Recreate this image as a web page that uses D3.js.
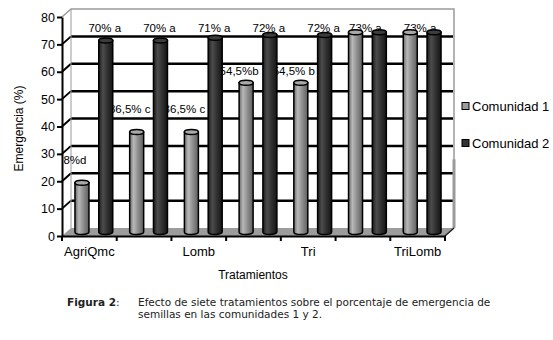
<!DOCTYPE html>
<html>
<head>
<meta charset="utf-8">
<script src="https://cdn.jsdelivr.net/npm/d3@7"></script>
<style>
  body { margin: 0; background: #fff; }
  svg { display: block; }
  text { font-family: "Liberation Sans", Arial, sans-serif; fill: #000; }
  .caption text { font-family: "DejaVu Sans", Verdana, sans-serif; fill: #222; }
</style>
</head>
<body>
<div id="chart"></div>
<script>
// data
const categories = ["AgriQmc", "T2", "Lomb", "T4", "Tri", "T6", "TriLomb"];
const tickLabels = ["AgriQmc", "", "Lomb", "", "Tri", "", "TriLomb"];
const series = ["Comunidad 1", "Comunidad 2"];
const comunidad1 = [18, 36.5, 36.5, 54.5, 54.5, 73, 73];
const comunidad2 = [70, 70, 71, 72, 72, 73, 73];
const labels1 = ["8%d", "36,5% c", "36,5% c", "54,5%b", "54,5% b", "", ""];
const labels2 = ["70% a", "70% a", "71% a", "72% a", "72% a", "73% a", "73% a"];
const yTicks = [0, 10, 20, 30, 40, 50, 60, 70, 80];

var w = 553, h = 340;
var depth = { dx: 9, dy: -8 };   // 3d offset of the back wall

var svg = d3.select("#chart").append("svg")
    .attr("width", w)
    .attr("height", h);

var defs = svg.append("defs");
var gradGray = defs.append("linearGradient").attr("id", "g1");
[["0%", "#6a6a6a"], ["28%", "#b8b8b8"], ["60%", "#8e8e8e"], ["100%", "#5e5e5e"]]
    .forEach(s => gradGray.append("stop").attr("offset", s[0]).attr("stop-color", s[1]));
var gradDark = defs.append("linearGradient").attr("id", "g2");
[["0%", "#1c1c1c"], ["30%", "#4c4c4c"], ["65%", "#2e2e2e"], ["100%", "#151515"]]
    .forEach(s => gradDark.append("stop").attr("offset", s[0]).attr("stop-color", s[1]));

var x = d3.scaleBand().domain(categories).range([62, 445]);
var xs = d3.scalePoint().domain(series).range([0, x.bandwidth()]).padding(0.65);
var y = d3.scaleLinear().domain([0, 80]).range([236, 17]);

var x0 = x.range()[0], x1 = x.range()[1];
var bx0 = x0 + depth.dx, bx1 = x1 + depth.dx;

// back wall
svg.append("rect")
    .attr("x", bx0).attr("y", y(80) + depth.dy)
    .attr("width", bx1 - bx0).attr("height", y(0) - y(80))
    .attr("fill", "#fff");

// gridlines on the back wall and left side wall
var grid = yTicks.filter(v => v > 0 && v < 80);
svg.selectAll(".grid").data(grid).join("line")
    .attr("x1", bx0).attr("x2", bx1 - 1)
    .attr("y1", d => y(d) + depth.dy).attr("y2", d => y(d) + depth.dy)
    .attr("stroke", "#000").attr("stroke-width", 2.5);
svg.selectAll(".side").data(grid).join("line")
    .attr("x1", x0).attr("x2", bx0)
    .attr("y1", d => y(d)).attr("y2", d => y(d) + depth.dy)
    .attr("stroke", "#000").attr("stroke-width", 2);

// wall edges
var edge = "#9a9a9a";
svg.append("path")
    .attr("d", `M${x0},${y(80)} L${bx0},${y(80) + depth.dy} L${bx1},${y(80) + depth.dy} L${bx1},${y(0) + depth.dy}`)
    .attr("fill", "none").attr("stroke", edge).attr("stroke-width", 1.5);
svg.append("line")
    .attr("x1", bx0).attr("x2", bx0)
    .attr("y1", y(80) + depth.dy).attr("y2", y(0) + depth.dy)
    .attr("stroke", edge).attr("stroke-width", 1);
svg.append("line")
    .attr("x1", bx1).attr("x2", bx1)
    .attr("y1", y(28)).attr("y2", y(0) + depth.dy)
    .attr("stroke", edge).attr("stroke-width", 3);

// floor
svg.append("path")
    .attr("d", `M${x0},${y(0)} L${x1},${y(0)} L${bx1},${y(0) + depth.dy} L${bx0},${y(0) + depth.dy} Z`)
    .attr("fill", "#9c9c9c");
svg.append("line")
    .attr("x1", x1).attr("x2", bx1)
    .attr("y1", y(0)).attr("y2", y(0) + depth.dy)
    .attr("stroke", "#222").attr("stroke-width", 1.5);

// data labels (drawn before the bars, bars hide part of them)
var lab = svg.append("g").style("font-size", "11.5px");
categories.forEach((c, i) => {
    var cx1 = x(c) + xs(series[0]) + depth.dx / 2;
    var cx2 = x(c) + xs(series[1]) + depth.dx / 2;
    var shared = labels1[i] === "";
    lab.append("text")
        .attr("x", shared ? x(c) + x.bandwidth() / 2 + depth.dx / 2 - 2 : cx2 - 1)
        .attr("y", y(75) + 1)
        .attr("text-anchor", "middle")
        .text(labels2[i]);
    if (!shared) {
        lab.append("text")
            .attr("x", cx1 - 7)
            .attr("y", y(comunidad1[i]) + depth.dy / 2 - (comunidad1[i] > 50 ? 8 : 19))
            .attr("text-anchor", "middle")
            .text(labels1[i]);
    }
});

// cylinders
var bw = 14, ry = 2.5;
var bars = [];
categories.forEach((c, i) => {
    bars.push({ cat: c, s: series[0], v: comunidad1[i], fill: "url(#g1)", cap: "#a8a8a8" });
    bars.push({ cat: c, s: series[1], v: comunidad2[i], fill: "url(#g2)", cap: "#3c3c3c" });
});
var cyl = svg.selectAll(".bar").data(bars).join("g").attr("class", "bar");
cyl.append("path")
    .attr("d", d => {
        var cx = x(d.cat) + xs(d.s) + depth.dx / 2;
        var base = y(0) + depth.dy / 2, top = y(d.v) + depth.dy / 2;
        return `M${cx - bw / 2},${top} L${cx - bw / 2},${base} A${bw / 2},${ry} 0 0 0 ${cx + bw / 2},${base} L${cx + bw / 2},${top} Z`;
    })
    .attr("fill", d => d.fill)
    .attr("stroke", "#000").attr("stroke-width", 1.5);
cyl.append("ellipse")
    .attr("cx", d => x(d.cat) + xs(d.s) + depth.dx / 2)
    .attr("cy", d => y(d.v) + depth.dy / 2)
    .attr("rx", bw / 2).attr("ry", ry)
    .attr("fill", d => d.cap)
    .attr("stroke", "#000").attr("stroke-width", 1.5);

// y axis
var yAxis = d3.axisLeft(y).tickValues(yTicks).tickSize(5).tickSizeOuter(0);
var gy = svg.append("g")
    .attr("transform", `translate(${x0},0)`)
    .call(yAxis);
gy.select(".domain").attr("stroke-width", 2);
gy.selectAll(".tick line").attr("stroke-width", 2);
gy.selectAll(".tick text").style("font-size", "12.5px").attr("x", -7);

// x axis
var xAxis = d3.axisBottom(x).tickSize(0).tickPadding(11)
    .tickFormat((d, i) => tickLabels[i]);
var gx = svg.append("g")
    .attr("transform", `translate(0,${y(0)})`)
    .call(xAxis);
gx.select(".domain").attr("stroke-width", 2);
gx.selectAll(".tick text").style("font-size", "13px");
var bounds = categories.map(c => x(c)).concat([x1]);
gx.selectAll(".bound").data(bounds).join("line")
    .attr("x1", d => d).attr("x2", d => d)
    .attr("y1", 0).attr("y2", 5)
    .attr("stroke", "#000").attr("stroke-width", 2);

// axis titles
svg.append("text")
    .attr("transform", `translate(23,${(y(0) + y(80)) / 2 + 2}) rotate(-90)`)
    .attr("text-anchor", "middle")
    .style("font-size", "12px")
    .text("Emergencia (%)");
svg.append("text")
    .attr("x", 253).attr("y", 279)
    .attr("text-anchor", "middle")
    .style("font-size", "12px")
    .text("Tratamientos");

// legend
var legend = svg.append("g").attr("transform", "translate(462,0)");
var legY = [106, 143];
var legFill = ["#9c9c9c", "#333"];
series.forEach((s, i) => {
    legend.append("rect")
        .attr("x", 0).attr("y", legY[i] - 3.5)
        .attr("width", 7).attr("height", 7)
        .attr("fill", legFill[i]).attr("stroke", "#000").attr("stroke-width", 1);
    legend.append("text")
        .attr("x", 10).attr("y", legY[i] + 4.5)
        .style("font-size", "13px")
        .text(s);
});

// caption
var cap = svg.append("g").attr("class", "caption").style("font-size", "10.5px");
var fig = cap.append("text").attr("x", 67).attr("y", 305.5);
fig.append("tspan").style("font-weight", "bold").text("Figura 2");
fig.append("tspan").text(":");
cap.append("text").attr("x", 138).attr("y", 305.5)
    .text("Efecto de siete tratamientos sobre el porcentaje de emergencia de");
cap.append("text").attr("x", 138).attr("y", 318)
    .text("semillas en las comunidades 1 y 2.");
</script>
</body>
</html>
